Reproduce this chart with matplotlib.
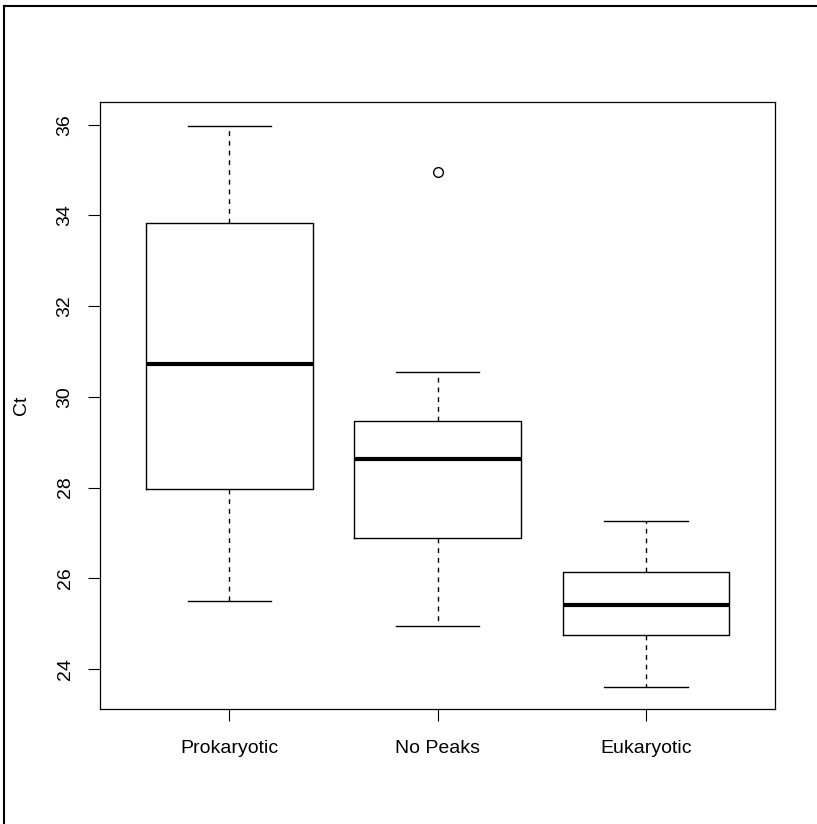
import matplotlib.pyplot as plt
from matplotlib.lines import Line2D

plt.rcParams['font.family'] = ['Liberation Sans', 'DejaVu Sans']

# boxplot summary values
groups = ['Prokaryotic', 'No Peaks', 'Eukaryotic']
whisker_low = [25.51, 24.94, 23.61]
q1 = [27.98, 26.88, 24.76]
median = [30.73, 28.64, 25.42]
q3 = [33.84, 29.46, 26.15]
whisker_high = [35.98, 30.54, 27.27]
outliers = [[], [34.96], []]

stats = []
for i, name in enumerate(groups):
    stats.append({
        'label': name,
        'whislo': whisker_low[i],
        'q1': q1[i],
        'med': median[i],
        'q3': q3[i],
        'whishi': whisker_high[i],
        'fliers': outliers[i],
    })

fig = plt.figure(figsize=(8.17, 8.24), dpi=100)
ax = fig.add_axes([100 / 817, (824 - 709) / 824, 675 / 817, 607 / 824])

ax.bxp(stats, positions=[1, 2, 3], widths=0.8, capwidths=0.4,
       boxprops=dict(color='black', linewidth=1.0),
       medianprops=dict(color='black', linewidth=3.0, solid_capstyle='butt'),
       whiskerprops=dict(color='black', linewidth=1.0, linestyle=(0, (3.5, 3.5))),
       capprops=dict(color='black', linewidth=1.0),
       flierprops=dict(marker='o', markersize=7, markerfacecolor='none',
                       markeredgecolor='black', markeredgewidth=1.0))

ax.set_xlim(0.38, 3.62)
ax.set_ylim(23.12, 36.5)
ax.set_yticks([24, 26, 28, 30, 32, 34, 36])
ax.set_yticklabels(['24', '26', '28', '30', '32', '34', '36'], rotation=90, va='center')
ax.set_xticks([1, 2, 3])
ax.set_xticklabels(groups)
ax.tick_params(axis='both', direction='out', length=8.5, width=0.8, labelsize=14, color='black')
ax.tick_params(axis='y', pad=10.5)
ax.tick_params(axis='x', pad=13.5)
ax.set_ylabel('Ct', fontsize=14, labelpad=19)
for s in ax.spines.values():
    s.set_linewidth(0.9)

# partial border around the figure, as in the original image
fig.add_artist(Line2D([4 / 817, 4 / 817], [0, 1 - 6 / 824], transform=fig.transFigure,
                      color='black', linewidth=1.5))
fig.add_artist(Line2D([4 / 817, 1], [1 - 6 / 824, 1 - 6 / 824], transform=fig.transFigure,
                      color='black', linewidth=1.5))

fig.savefig('out.png', dpi=100)
